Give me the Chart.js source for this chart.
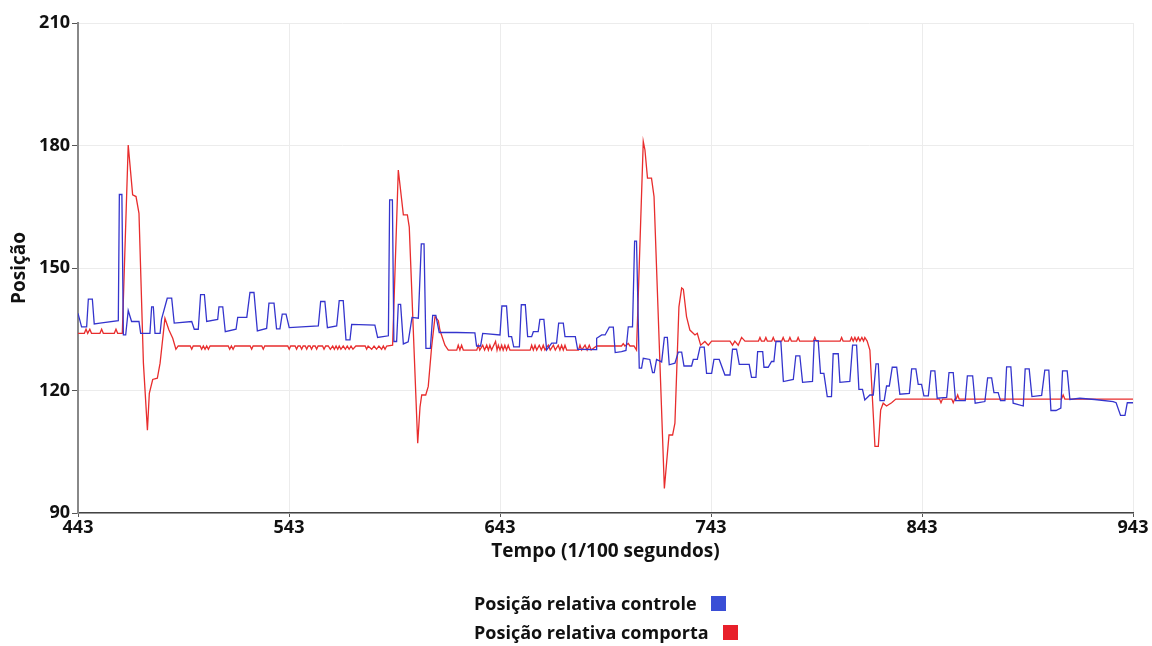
<!DOCTYPE html>
<html>
<head>
<meta charset="utf-8">
<script src="https://cdn.jsdelivr.net/npm/chart.js@4.4.0/dist/chart.umd.min.js"></script>
<style>
  body { margin: 0; background: #fff; }
  #wrap { position: relative; width: 1152px; height: 646px; }
  #legend { position: absolute; left: 474px; top: 590px; font-family: "Open Sans", Lato, sans-serif; font-weight: bold; font-size: 18px; color: #111; }
  .row { height: 29px; line-height: 27px; white-space: nowrap; }
  .sw { display: inline-block; width: 15px; height: 15px; margin-left: 14px; vertical-align: -1px; }
</style>
</head>
<body>
<div id="wrap">
  <canvas id="chart" width="1152" height="646"></canvas>
  <div id="legend"></div>
</div>
<script>
// Series names
const seriesNames = ['Posição relativa controle', 'Posição relativa comporta'];

// Posição relativa controle (x = tempo, y = posição)
const controleX = [443, 444.7, 447.1, 447.9, 449.8, 450.7, 453.4, 462.1, 462.6, 463.8, 464.5, 465.6, 466.8, 468.4, 471.9, 472.7, 477.1, 477.9, 478.7, 479.5,
  481.9, 482.6, 485.3, 487.4, 488.6, 496.9, 498.1, 500, 501.1, 502.9, 504, 509.2, 509.8, 511.6, 512.8, 517.9, 518.7, 523, 524.5, 526.4,
  528, 532.4, 533.5, 535.9, 537.1, 538.7, 539.8, 541.6, 543.1, 556.9, 558, 560, 561.2, 565.6, 566.8, 568.7, 570, 571.9, 572.7, 583.7,
  585, 590.1, 590.7, 592, 592.7, 594, 594.8, 595.9, 597.2, 599.5, 601.3, 604.3, 605.7, 607, 607.9, 610, 611.1, 612.6, 614.2, 622.4,
  631.1, 631.9, 633.8, 634.8, 643, 643.9, 646.1, 647.1, 648.5, 649.5, 652.2, 653.1, 655, 656.1, 658, 658.8, 661.1, 661.9, 663.8, 665.1,
  667.5, 669.8, 670.8, 673, 673.8, 678.7, 679.8, 688.5, 688.8, 691.2, 692.8, 694.8, 696.7, 697.6, 700.6, 702.7, 703.8, 705.8, 706.8, 707.7,
  709, 710.1, 710.9, 714, 715.3, 716.1, 717.2, 719.6, 720.9, 722.3, 723.2, 725.9, 727.5, 729.1, 730.2, 733.8, 734.6, 736.5, 737.8, 739.8,
  740.9, 743.3, 744.4, 746.9, 749.6, 752, 753.2, 755.1, 756.4, 761.1, 762.2, 764.3, 765.1, 767.5, 768.1, 770.1, 771.7, 772.8, 773.8, 776.1,
  777.3, 782, 783.2, 785.1, 786.4, 791.1, 791.9, 793.8, 794.9, 796.5, 798.1, 800.1, 800.9, 803.3, 804.1, 808.8, 810.1, 812, 813.1, 814.8,
  815.9, 818.3, 819.9, 821.2, 822.3, 823.1, 825.1, 826.2, 827.5, 828.9, 831, 832.5, 837, 838.1, 840.1, 841.2, 842.8, 843.9, 846, 847.2,
  849.1, 850.2, 854.7, 855.8, 857.8, 858.9, 863.5, 864.5, 867, 868.2, 872.8, 874.1, 876, 877.1, 879.1, 880.2, 882.3, 883.1, 885.1, 886.2,
  891, 891.9, 893.8, 895.1, 899.7, 901.2, 903.1, 904.1, 906.5, 908.8, 909.6, 911.8, 913.1, 917.8, 924.9, 933.6, 935, 937.1, 939.2, 940.3, 943];
const controleY = [138.9, 135.6, 135.6, 142.4, 142.4, 136.3, 136.5, 137.1, 168, 168, 133.6, 133.6, 139.6, 136.9, 136.9, 134, 134, 140.5, 140.5, 134,
  134, 137.5, 142.6, 142.6, 136.5, 136.9, 135, 135, 143.5, 143.5, 136.9, 137.4, 140.5, 140.5, 134.4, 135, 137.9, 137.9, 144, 144,
  134.6, 135.2, 141.4, 141.4, 135.1, 135.1, 138.7, 138.7, 135.4, 135.8, 141.8, 141.8, 135.4, 135.8, 142, 142, 132.4, 132.4, 136.2, 136,
  133, 133.4, 166.7, 166.7, 132, 132, 141.1, 141.1, 131.4, 131.9, 137.9, 137.7, 155.9, 155.9, 130.3, 130.3, 138.4, 138.4, 134.2, 134.2,
  134.1, 130.9, 130.9, 134, 133.6, 140.7, 140.7, 133.2, 133.2, 130.7, 130.7, 141, 141, 133.2, 133.2, 134.4, 134.4, 137.4, 137.4, 129.9,
  131.6, 131.6, 136.5, 136.5, 133.2, 133.2, 130.1, 130, 132.8, 133.6, 133.6, 135.5, 135.5, 129.3, 129.5, 129.8, 135.6, 135.6, 156.6, 156.6,
  125.5, 125.5, 127.9, 127.6, 124.4, 124.4, 127.6, 127, 133, 133, 126.3, 126.7, 129.4, 129.4, 126, 126, 127.6, 127.6, 130.6, 130.6,
  124.2, 124.2, 127.6, 127.6, 123.8, 123.8, 130.1, 130.1, 126.4, 126.4, 123.2, 123.2, 129.5, 129.5, 125.7, 125.7, 127.1, 127.1, 132, 132,
  122.2, 122.7, 128.5, 128.5, 122, 122.2, 132.2, 132.2, 124.2, 124.2, 118.5, 118.5, 129, 129, 122, 122.2, 131.1, 131.1, 120.3, 120.3,
  117.7, 118.9, 118.9, 126.5, 126.5, 117.5, 117.5, 121.1, 121.1, 125.7, 125.7, 119.1, 119.3, 125.3, 125.3, 121.5, 121.5, 118.7, 118.7, 124.8,
  124.8, 118.1, 118.3, 124.4, 124.4, 117.5, 117.5, 123.6, 123.6, 116.9, 117.3, 123.1, 123.1, 119.5, 119.5, 117.5, 117.5, 125.8, 125.8, 116.9,
  116.2, 125.3, 125.3, 118.5, 118.8, 125, 125, 115.1, 115.1, 115.7, 124.8, 124.8, 117.8, 118.1, 117.8, 117.3, 117, 113.9, 113.9, 117, 117];

// Posição relativa comporta
const comportaX = [443, 446, 446.8, 447.6, 448.6, 449.4, 453.4, 454.2, 455, 460.2, 461, 461.8, 464, 466.8, 468.9, 470.5, 471.9, 474, 475.9, 476.8,
  478.4, 480.6, 481.9, 484.2, 486.1, 487.9, 489.4, 490.5, 496.2, 496.9, 497.6, 500.9, 501.6, 502.4, 503.2, 504, 504.8, 505.6, 514.2, 514.9,
  515.7, 516.5, 517.3, 524.6, 525.3, 526, 530.1, 530.8, 531.5, 542.4, 543.1, 543.8, 545.9, 546.6, 547.3, 548.3, 549, 549.7, 550.7, 551.4,
  552.1, 553, 553.7, 554.4, 555.4, 556.1, 556.8, 558.9, 559.6, 560.4, 561.6, 562.6, 563.7, 564.5, 565.3, 566.1, 566.8, 567.6, 568.7, 569.7,
  570.6, 571.5, 572.4, 573.3, 574.7, 575.5, 579.1, 579.8, 580.5, 582.2, 583.3, 584.5, 585.6, 586.9, 587.7, 588.5, 589.3, 592.1, 594.8, 597.2,
  599.1, 600, 604, 605.1, 605.9, 607.8, 609, 610.6, 612.2, 613.8, 614.5, 616.9, 618.5, 622.5, 623.2, 624, 624.8, 625.6, 632, 632.7,
  633.4, 634.8, 635.7, 636.7, 637.5, 638.2, 639, 640.9, 641.6, 642.2, 643, 643.8, 644.5, 645.3, 646.1, 646.9, 647.7, 657.3, 658, 658.8,
  659.6, 660.4, 661.6, 662.6, 663.5, 664.3, 665.9, 666.8, 668.3, 669.2, 670.6, 671.4, 672.2, 673, 673.8, 674.6, 680.2, 680.9, 681.7, 683.3,
  684.3, 685.3, 686.2, 688.8, 700.6, 701.4, 702.2, 703.8, 704.6, 706.5, 707.7, 710.9, 711.7, 712.9, 714.8, 716, 720.9, 723.1, 724.8, 725.9,
  727.8, 729.1, 729.9, 731.4, 733, 735.4, 736.5, 738.1, 740.1, 741.7, 743.3, 752, 753.2, 754.3, 755.9, 757.5, 759.1, 765.5, 766.2, 766.9,
  768.3, 769, 769.7, 771.8, 772.5, 773.2, 776.5, 777.2, 777.9, 779.7, 780.4, 781.1, 783.6, 784.3, 785, 791.5, 792.2, 792.9, 804.2, 804.9,
  805.6, 808.9, 809.6, 810.4, 811.2, 812, 812.8, 813.6, 814.5, 815.3, 815.9, 817, 818.3, 820.7, 822.3, 823.4, 824.6, 826.2, 828.6, 830.6,
  851.3, 852, 852.7, 857.1, 857.8, 858.5, 859.2, 859.9, 860.6, 909.1, 909.9, 910.7, 943];
const comportaY = [134, 134, 135, 134, 135, 134, 134, 135, 134, 134, 135, 134, 134, 180.1, 167.9, 167.5, 163.4, 126.7, 110.3, 119.3,
  122.7, 123, 126.7, 137.7, 134.8, 132.8, 130.1, 130.9, 130.9, 130.1, 130.9, 130.9, 130.1, 130.9, 130.1, 130.9, 130.1, 130.9, 130.9, 130.1,
  130.9, 130.1, 130.9, 130.9, 130.1, 130.9, 130.9, 130.1, 130.9, 130.9, 130.1, 130.9, 130.9, 130.1, 130.9, 130.9, 130.1, 130.9, 130.9, 130.1,
  130.9, 130.9, 130.1, 130.9, 130.9, 130.1, 130.9, 130.9, 130.1, 130.9, 130.9, 130.1, 130.9, 130.1, 130.9, 130.1, 130.9, 130.1, 130.9, 130.1,
  130.9, 130.1, 130.9, 130.1, 130.9, 130.9, 130.9, 130.1, 130.9, 130.1, 130.9, 130.1, 130.9, 130.1, 130.9, 130.1, 130.9, 131.1, 174, 163,
  163, 160, 107.1, 116, 118.9, 118.9, 121, 130.7, 138.1, 137.1, 134.8, 131.1, 129.9, 129.9, 131.1, 129.9, 131.1, 129.9, 129.9, 131.1,
  129.9, 131.1, 129.9, 131.1, 129.9, 131.1, 129.9, 132, 129.9, 131.1, 129.9, 131.1, 129.9, 131.1, 129.9, 131.1, 129.9, 129.9, 131.1, 129.9,
  131.1, 129.9, 131.1, 129.9, 131.1, 129.9, 131.1, 129.9, 131.1, 129.9, 131.1, 129.9, 131.1, 129.9, 131.1, 129.9, 129.9, 131.1, 129.9, 131.1,
  129.9, 131.1, 129.9, 130.9, 130.9, 131.5, 130.9, 131.5, 130.9, 130.9, 129.9, 181, 178.9, 172, 172, 167.5, 96, 109.1, 109.1, 112,
  140.5, 145.1, 144.8, 138.1, 134.8, 133.6, 134, 131.1, 132, 131.1, 132.1, 132.1, 131.1, 132.1, 131.1, 133, 132.1, 132.1, 133, 132.1,
  132.1, 133, 132.1, 132.1, 133, 132.1, 132.1, 133, 132.1, 132.1, 133, 132.1, 132.1, 133, 132.1, 132.1, 133, 132.1, 132.1, 133,
  132.1, 132.1, 133, 132.1, 133, 132.1, 133, 132.1, 133, 132.1, 133, 132.1, 129.9, 106.3, 106.3, 115.2, 116.9, 116.2, 117, 117.9,
  117.9, 117, 117.9, 117.9, 117, 117.9, 117.9, 118.9, 117.9, 117.9, 118.9, 117.9, 117.9];

// Axis ticks
const xTickLabels = [443, 543, 643, 743, 843, 943];
const yTickLabels = [90, 120, 150, 180, 210];

const lineColors = ['rgb(52, 52, 205)', 'rgb(232, 45, 45)'];
const legendColors = ['rgb(58, 78, 214)', 'rgb(232, 32, 42)'];

const tickFont = { family: '"Open Sans", Lato, sans-serif', size: 18, weight: 'bold' };
const titleFont = { family: '"Open Sans", Lato, sans-serif', size: 19, weight: 'bold' };

function toPoints(xs, ys) {
  return xs.map((x, i) => ({ x: x, y: ys[i] }));
}

const chart = new Chart(document.getElementById('chart'), {
  type: 'line',
  data: {
    datasets: [
      {
        label: seriesNames[0],
        data: toPoints(controleX, controleY),
        borderColor: lineColors[0],
        borderWidth: 1.3,
        pointRadius: 0,
        tension: 0
      },
      {
        label: seriesNames[1],
        data: toPoints(comportaX, comportaY),
        borderColor: lineColors[1],
        borderWidth: 1.3,
        pointRadius: 0,
        tension: 0
      }
    ]
  },
  options: {
    responsive: false,
    animation: false,
    layout: { padding: { left: 0, top: 23, right: 19, bottom: 83 } },
    plugins: {
      legend: { display: false },
      tooltip: { enabled: false }
    },
    scales: {
      x: {
        type: 'linear',
        min: 443,
        max: 943,
        afterBuildTicks: s => { s.ticks = xTickLabels.map(v => ({ value: v })); },
        afterFit: s => { s.height = 50; },
        ticks: { font: tickFont, color: '#111', padding: 0, maxRotation: 0 },
        grid: { color: '#ececec', tickColor: '#555', tickLength: 4 },
        border: { color: '#444', width: 1.5 },
        title: {
          display: true,
          text: 'Tempo (1/100 segundos)',
          font: titleFont,
          color: '#111',
          padding: { top: 0, bottom: 0 }
        }
      },
      y: {
        min: 90,
        max: 210,
        afterBuildTicks: s => { s.ticks = yTickLabels.map(v => ({ value: v })); },
        afterFit: s => { s.width = 78; },
        ticks: { font: tickFont, color: '#111', padding: 2 },
        grid: { color: '#ececec', tickColor: '#555', tickLength: 6 },
        border: { color: '#888', width: 2 },
        title: {
          display: true,
          text: 'Posição',
          font: titleFont,
          color: '#111',
          padding: { top: 8, bottom: 0 }
        }
      }
    }
  }
});

// Legend below the chart: name first, colour square after it
const legendDiv = document.getElementById('legend');
seriesNames.forEach((name, i) => {
  const row = document.createElement('div');
  row.className = 'row';
  row.textContent = name;
  const sw = document.createElement('span');
  sw.className = 'sw';
  sw.style.background = legendColors[i];
  row.appendChild(sw);
  legendDiv.appendChild(row);
});
</script>
</body>
</html>
